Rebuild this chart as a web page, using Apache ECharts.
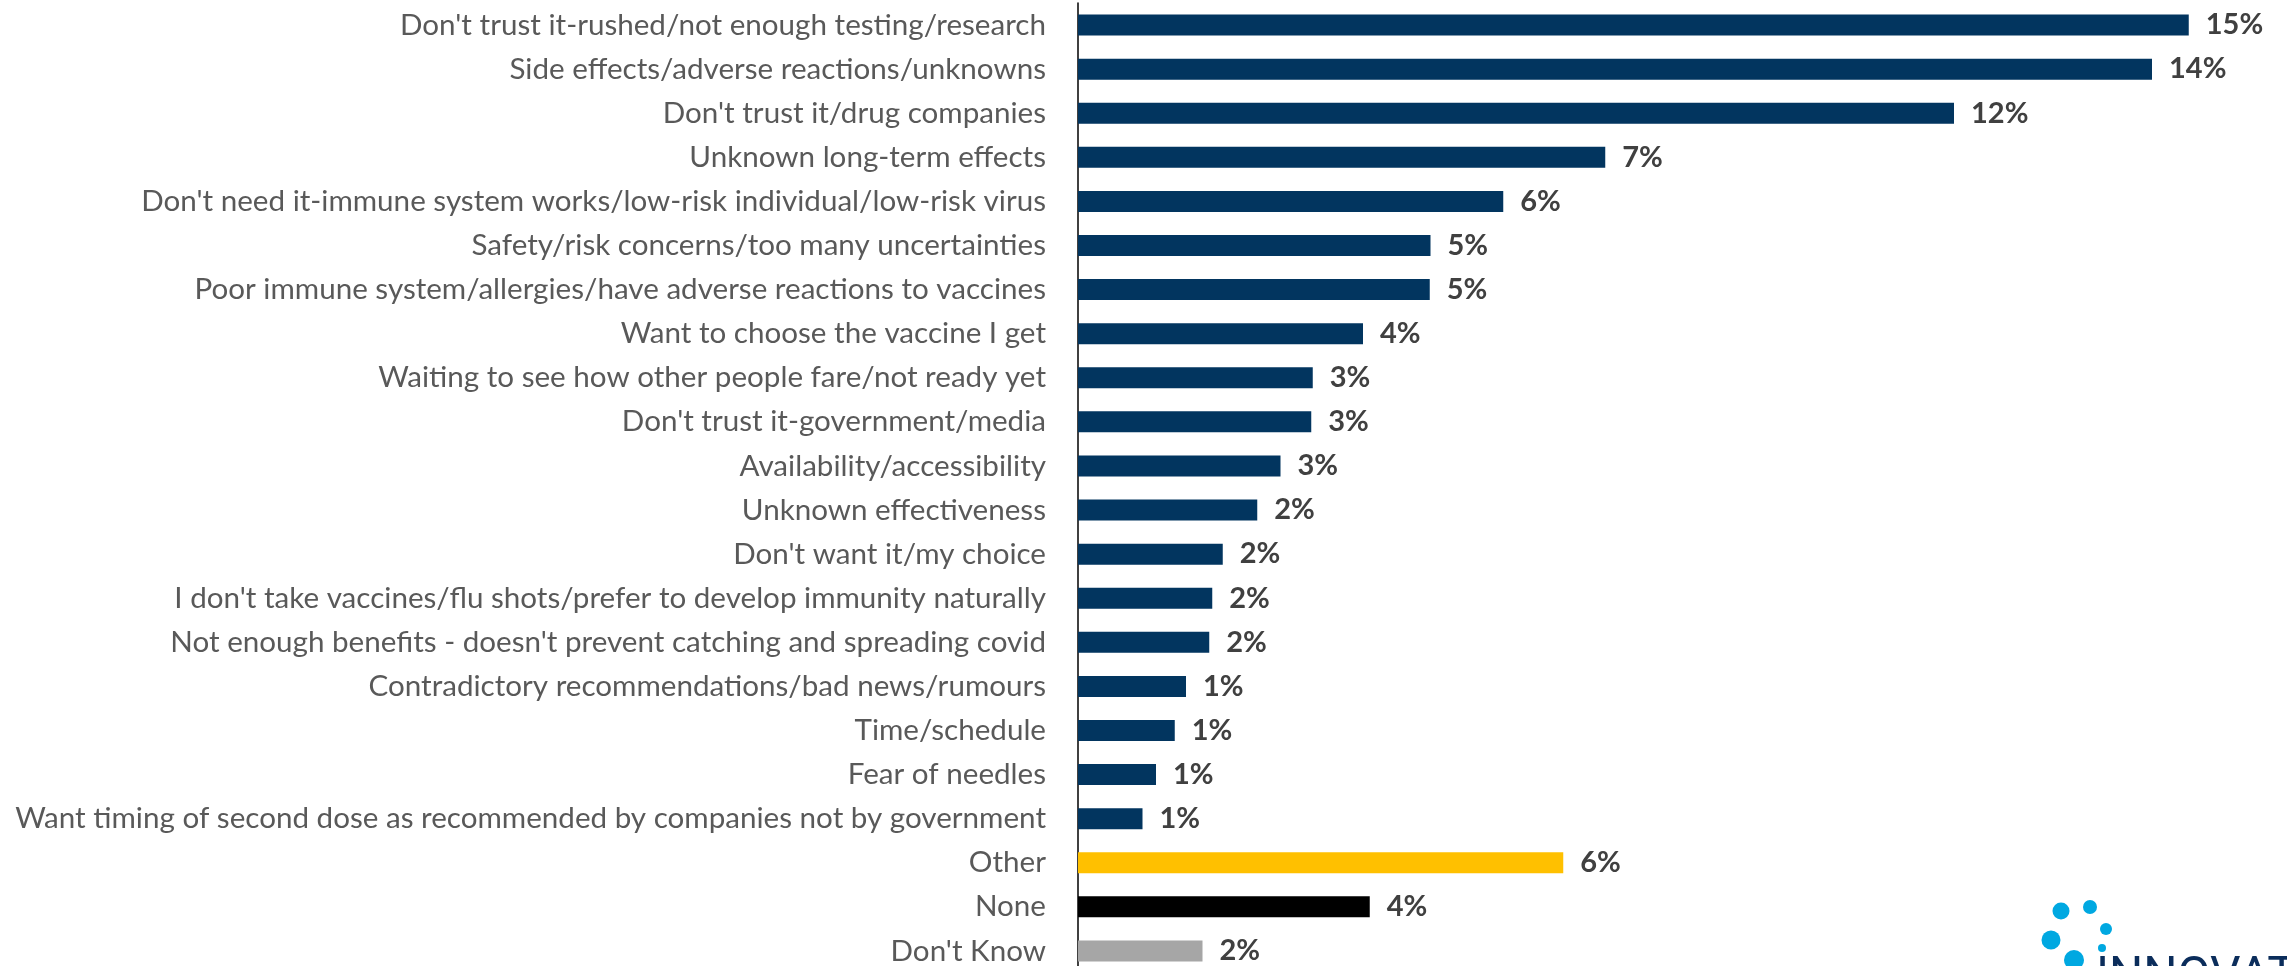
<!DOCTYPE html>
<html>
<head>
<meta charset="utf-8">
<title>Reasons for not getting vaccinated</title>
<script src="https://cdn.jsdelivr.net/npm/echarts@6/dist/echarts.min.js"></script>
<style>
  html, body { margin: 0; padding: 0; background: #fff; }
  #main { width: 2287px; height: 966px; }
</style>
</head>
<body>
<div id="main"></div>
<script type="text/javascript">
    // reasons, top to bottom
    var categories = [
        "Don't trust it-rushed/not enough testing/research",
        "Side effects/adverse reactions/unknowns",
        "Don't trust it/drug companies",
        "Unknown long-term effects",
        "Don't need it-immune system works/low-risk individual/low-risk virus",
        "Safety/risk concerns/too many uncertainties",
        "Poor immune system/allergies/have adverse reactions to vaccines",
        "Want to choose the vaccine I get",
        "Waiting to see how other people fare/not ready yet",
        "Don't trust it-government/media",
        "Availability/accessibility",
        "Unknown effectiveness",
        "Don't want it/my choice",
        "I don't take vaccines/flu shots/prefer to develop immunity naturally",
        "Not enough benefits - doesn't prevent catching and spreading covid",
        "Contradictory recommendations/bad news/rumours",
        "Time/schedule",
        "Fear of needles",
        "Want timing of second dose as recommended by companies not by government",
        "Other",
        "None",
        "Don't Know"
    ];
    // percent of respondents
    var values = [14.81, 14.32, 11.68, 7.03, 5.67, 4.70, 4.69, 3.80, 3.13, 3.11, 2.70,
        2.39, 1.93, 1.79, 1.75, 1.44, 1.29, 1.04, 0.86, 6.47, 3.89, 1.66];

    var specialColors = { 'Other': '#FFC000', 'None': '#000000', "Don't Know": '#A6A6A6' };
    var mainColor = '#02355F';
    var logoBlue = '#00A8E1';

    var chart = echarts.init(document.getElementById('main'));
    chart.setOption({
        animation: false,
        grid: { left: 1078, top: 3, width: 1200, height: 970, containLabel: false, outerBoundsMode: 'none' },
        xAxis: { type: 'value', min: 0, max: 16, show: false },
        yAxis: {
            type: 'category',
            inverse: true,
            data: categories,
            axisLine: { show: true, lineStyle: { color: '#000', width: 1.5 } },
            axisTick: { show: false },
            axisLabel: {
                interval: 0,
                margin: 32,
                color: '#595959',
                fontFamily: 'Lato',
                fontSize: 29.6
            }
        },
        series: [{
            type: 'bar',
            barWidth: 21,
            data: values.map(function (v, i) {
                return { value: v, itemStyle: { color: specialColors[categories[i]] || mainColor } };
            }),
            label: {
                show: true,
                position: 'right',
                distance: 17,
                formatter: function (p) { return Math.round(p.value) + '%'; },
                color: '#404040',
                fontFamily: 'Lato',
                fontWeight: 'bold',
                fontSize: 29
            }
        }],
        // partly cropped company logo, bottom right
        graphic: [
            { type: 'circle', shape: { cx: 2061, cy: 911, r: 8.5 }, style: { fill: logoBlue } },
            { type: 'circle', shape: { cx: 2090, cy: 907, r: 7 }, style: { fill: logoBlue } },
            { type: 'circle', shape: { cx: 2106, cy: 929, r: 6 }, style: { fill: logoBlue } },
            { type: 'circle', shape: { cx: 2051, cy: 940, r: 9.5 }, style: { fill: logoBlue } },
            { type: 'circle', shape: { cx: 2102, cy: 948, r: 4 }, style: { fill: logoBlue } },
            { type: 'circle', shape: { cx: 2074, cy: 960, r: 10 }, style: { fill: logoBlue } },
            {
                type: 'text',
                style: {
                    x: 2096, y: 978, text: 'INNOVATIVE', verticalAlign: 'middle',
                    fill: '#0B2D5B', font: '48px Roboto'
                }
            }
        ]
    });
</script>
</body>
</html>
